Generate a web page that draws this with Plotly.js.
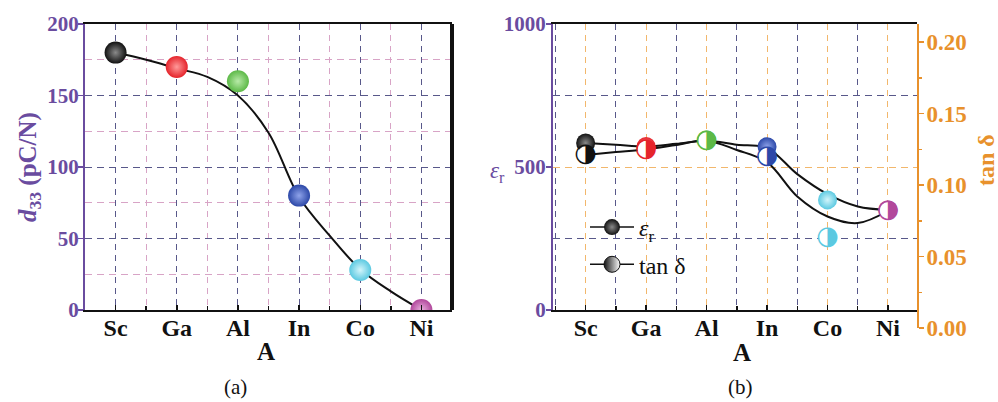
<!DOCTYPE html>
<html><head><meta charset="utf-8">
<script src="https://cdn.plot.ly/plotly-3.0.1.min.js"></script>
<style>html,body{margin:0;padding:0;background:#fff}#chart{width:998px;height:402px}</style>
</head><body><div id="chart"></div>
<script>
// ---- data ----
const categories = ['Sc', 'Ga', 'Al', 'In', 'Co', 'Ni'];
const pointColors = ['#111111', '#e5242b', '#5cb947', '#2c48a8', '#5bc9e1', '#b1489c'];
const highlightColors = ['#8a8a8a', '#ff9a9a', '#b8eaa8', '#8fa3ea', '#d2f5fb', '#eab0de'];
const d33 = [180, 170, 160, 80, 28, 0];
const epsR = [584, 572, 594, 571, 385, 350];
const tanDelta = [0.121, 0.125, 0.131, 0.120, 0.063, 0.082];
const halfGlyph = ['◑', '◑', '◑', '◑', '◑', '◑'];
// fitted guide curves (read at half-category steps)
const fitPos = [0, 0.5, 1, 1.5, 2, 2.5, 3, 3.5, 4, 4.5, 5];
const d33Fit = [180, 175, 169, 163, 150, 124, 79, 52, 28.5, 13, 0];
const epsRFit = [584, 578, 572, 581, 592, 578, 566, 475, 405, 362, 350];
const tanDeltaFit = [0.121, 0.123, 0.125, 0.128, 0.131, 0.1245, 0.116, 0.092, 0.078, 0.0734, 0.082];

const xIdx = categories.map((c, i) => i);

const purple = '#6a4c9f';
const orange = '#e8912c';
const gridPurple = '#58588a';
const gridPink = '#d8a4c6';
const gridOrange = '#f2b76c';
const serif = '"Liberation Serif", "Times New Roman", serif';
const W = 998, H = 402;
const px = v => v / W;
const py = v => 1 - v / H;

const traces = [
  { x: fitPos, y: d33Fit, xaxis: 'x', yaxis: 'y', mode: 'lines', line: { shape: 'spline', smoothing: 1, color: '#111', width: 2 }, showlegend: false, hoverinfo: 'skip' },
  { x: xIdx, y: d33, xaxis: 'x', yaxis: 'y', mode: 'markers', marker: { size: 22, color: pointColors, gradient: { type: 'radial', color: highlightColors } }, showlegend: false },
  { x: fitPos, y: epsRFit, xaxis: 'x2', yaxis: 'y2', mode: 'lines', line: { shape: 'spline', smoothing: 1, color: '#111', width: 2 }, showlegend: false, hoverinfo: 'skip' },
  { x: xIdx, y: epsR, xaxis: 'x2', yaxis: 'y2', mode: 'markers', marker: { size: 19, color: pointColors, gradient: { type: 'radial', color: highlightColors } }, showlegend: false },
  { x: fitPos, y: tanDeltaFit, xaxis: 'x3', yaxis: 'y3', mode: 'lines', line: { shape: 'spline', smoothing: 1, color: '#111', width: 2 }, showlegend: false, hoverinfo: 'skip' },
  { x: xIdx, y: tanDelta, xaxis: 'x3', yaxis: 'y3', mode: 'markers+text', text: halfGlyph, textposition: 'middle center',
    textfont: { family: '"DejaVu Sans"', size: 26, color: pointColors },
    marker: { size: 17, color: '#ffffff', line: { width: 0 } }, showlegend: false },
  { x: [null], y: [null], xaxis: 'x2', yaxis: 'y2', mode: 'lines+markers', name: '<i>ε</i><sub>r</sub>', legendgroup: 'a', marker: { size: 16, color: '#111', gradient: { type: 'radial', color: '#8a8a8a' } }, line: { color: '#111', width: 1.5 } },
  { x: [null], y: [null], xaxis: 'x2', yaxis: 'y2', mode: 'lines+markers', name: 'tan δ', legendgroup: 'b', marker: { size: 16, color: '#111', gradient: { type: 'horizontal', color: '#ffffff' }, line: { color: '#111', width: 1 } }, line: { color: '#111', width: 1.5 } }
];

const xTickFont = { family: serif, size: 24, color: '#111', weight: 'bold' };
const dashMajor = '6px,5px';

const layout = {
  width: W, height: H,
  margin: { l: 0, r: 0, t: 0, b: 0 },
  paper_bgcolor: '#fff', plot_bgcolor: 'rgba(0,0,0,0)',
  font: { family: serif, color: '#111' },
  showlegend: true,
  legend: { x: px(585), y: py(205), xanchor: 'left', yanchor: 'top', bgcolor: 'rgba(0,0,0,0)', font: { family: serif, size: 24, color: '#111' }, tracegroupgap: 3, traceorder: 'grouped', itemwidth: 44 },
  xaxis: {
    domain: [px(85), px(452)], anchor: 'y', range: [-0.5, 5.5],
    tickmode: 'array', tickvals: xIdx, ticktext: categories, tickfont: xTickFont, ticklabelstandoff: -5,
    ticks: 'inside', ticklen: 5, tickwidth: 1.5, tickcolor: '#111',
    showline: true, linecolor: '#111', linewidth: 2, mirror: true, zeroline: false,
    showgrid: true, gridcolor: gridPurple, griddash: dashMajor, gridwidth: 1,
    minor: { tick0: 0.5, dtick: 1, ticks: 'inside', ticklen: 4, tickcolor: '#111', showgrid: true, gridcolor: gridPink, griddash: dashMajor, gridwidth: 1 }
  },
  yaxis: {
    domain: [py(310), py(24)], anchor: 'x', range: [0, 200], tick0: 0, dtick: 50,
    tickfont: { family: serif, size: 21, color: purple, weight: 'bold' }, ticklabelstandoff: -5,
    ticks: 'outside', ticklen: 5, tickwidth: 1.5, tickcolor: purple,
    showline: true, linecolor: purple, linewidth: 2, zeroline: false,
    showgrid: true, gridcolor: gridPurple, griddash: '7px,5px', gridwidth: 1,
    minor: { tick0: 25, dtick: 50, showgrid: true, gridcolor: gridPink, griddash: '7px,5px', gridwidth: 1 },
    title: { text: '<i>d</i><sub>33</sub> (pC/N)', font: { family: serif, size: 25, color: purple, weight: 'bold' }, standoff: 4 }
  },
  xaxis2: {
    domain: [px(553), px(917)], anchor: 'y2', range: [-0.54, 5.48],
    tickmode: 'array', tickvals: xIdx, ticktext: categories, tickfont: xTickFont, ticklabelstandoff: -5,
    ticks: 'inside', ticklen: 5, tickwidth: 1.5, tickcolor: '#111',
    showline: true, linecolor: '#111', linewidth: 2, mirror: true, zeroline: false,
    showgrid: true, gridcolor: gridOrange, griddash: dashMajor, gridwidth: 1,
    minor: { tick0: 0.5, dtick: 1, ticks: 'inside', ticklen: 4, tickcolor: '#111', showgrid: true, gridcolor: gridPurple, griddash: dashMajor, gridwidth: 1 }
  },
  yaxis2: {
    domain: [py(310), py(24)], anchor: 'x2', range: [0, 1000], tick0: 0, dtick: 500,
    tickfont: { family: serif, size: 21, color: purple, weight: 'bold' }, ticklabelstandoff: -4,
    ticks: 'outside', ticklen: 5, tickwidth: 1.5, tickcolor: purple,
    showline: true, linecolor: purple, linewidth: 2, zeroline: false,
    showgrid: true, gridcolor: gridOrange, griddash: '7px,5px', gridwidth: 1,
    minor: { tick0: 250, dtick: 500, showgrid: true, gridcolor: gridPurple, griddash: '7px,5px', gridwidth: 1 }
  },
  xaxis3: { domain: [px(553), px(917)], anchor: 'y3', range: [-0.54, 5.48], visible: false },
  yaxis3: {
    domain: [py(328), py(24)], anchor: 'x3', side: 'right', range: [0, 0.2126], tick0: 0, dtick: 0.05, tickformat: '.2f',
    tickfont: { family: serif, size: 23, color: orange, weight: 'bold' }, ticklabelstandoff: -2,
    ticks: 'outside', ticklen: 5, tickwidth: 1.5, tickcolor: orange,
    minor: { tick0: 0.025, dtick: 0.05, ticks: 'outside', ticklen: 3, tickcolor: orange },
    showline: true, linecolor: orange, linewidth: 2, zeroline: false, showgrid: false
  },
  shapes: [
    { type: 'line', xref: 'x domain', yref: 'y domain', x0: 1, x1: 1, y0: 0, y1: 1, line: { color: '#111', width: 4 } }
  ],
  annotations: [
    { text: '<b>A</b>', xref: 'paper', yref: 'paper', x: px(266), y: py(351), xanchor: 'center', yanchor: 'middle', showarrow: false, font: { family: serif, size: 25, color: '#111' } },
    { text: '<b>A</b>', xref: 'paper', yref: 'paper', x: px(742), y: py(352), xanchor: 'center', yanchor: 'middle', showarrow: false, font: { family: serif, size: 25, color: '#111' } },
    { text: '<i>ε</i><sub>r</sub>', xref: 'paper', yref: 'paper', x: px(497), y: py(172), xanchor: 'center', yanchor: 'middle', showarrow: false, font: { family: serif, size: 23, color: purple } },
    { text: '<b>tan δ</b>', xref: 'paper', yref: 'paper', x: px(986), y: py(160), xanchor: 'center', yanchor: 'middle', textangle: -90, showarrow: false, font: { family: serif, size: 24, color: orange } },
    { text: '(a)', xref: 'paper', yref: 'paper', x: px(235), y: py(387), xanchor: 'center', yanchor: 'middle', showarrow: false, font: { family: serif, size: 21, color: '#111' } },
    { text: '(b)', xref: 'paper', yref: 'paper', x: px(740), y: py(387), xanchor: 'center', yanchor: 'middle', showarrow: false, font: { family: serif, size: 21, color: '#111' } }
  ]
};

Plotly.newPlot('chart', traces, layout, { staticPlot: true });
</script>
</body></html>
